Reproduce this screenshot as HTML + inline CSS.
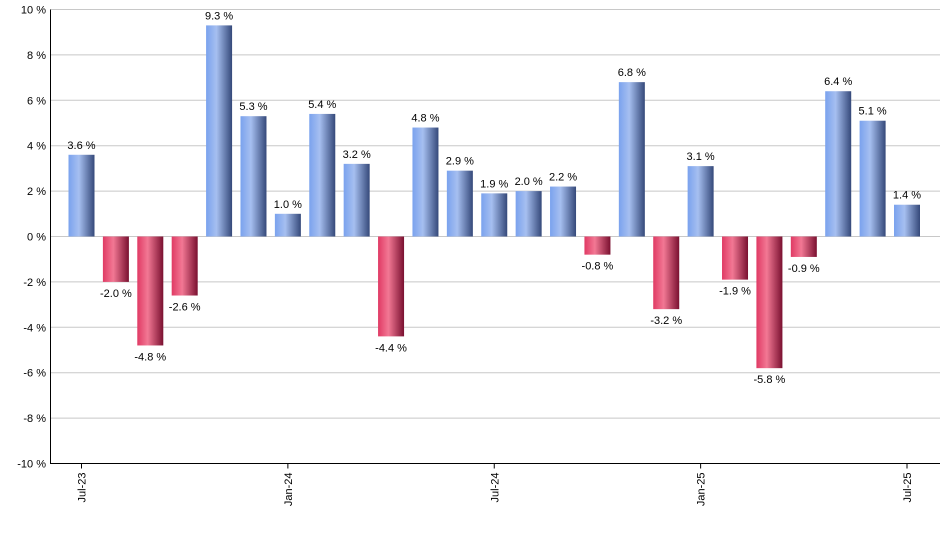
<!DOCTYPE html>
<html><head><meta charset="utf-8"><style>
body{margin:0;background:#fff;}
svg text{font-family:"Liberation Sans",sans-serif;font-size:11px;fill:#000;}
</style></head><body>
<svg id="chart" width="940" height="550">
<defs>
<linearGradient id="gb" x1="0" x2="1" y1="0" y2="0"><stop offset="0" stop-color="#7aa2ee"/><stop offset="0.4" stop-color="#a6bff0"/><stop offset="1" stop-color="#35497a"/></linearGradient>
<linearGradient id="gr" x1="0" x2="1" y1="0" y2="0"><stop offset="0" stop-color="#e03a64"/><stop offset="0.4" stop-color="#f27894"/><stop offset="1" stop-color="#7a1030"/></linearGradient>
</defs>
<g id="grid"></g><g id="bars"></g><g id="axes"></g>
</svg>
<script>
const categories=["Jul-23","Aug-23","Sep-23","Oct-23","Nov-23","Dec-23","Jan-24","Feb-24","Mar-24","Apr-24","May-24","Jun-24","Jul-24","Aug-24","Sep-24","Oct-24","Nov-24","Dec-24","Jan-25","Feb-25","Mar-25","Apr-25","May-25","Jun-25","Jul-25"];
const values=[3.6,-2.0,-4.8,-2.6,9.3,5.3,1.0,5.4,3.2,-4.4,4.8,2.9,1.9,2.0,2.2,-0.8,6.8,-3.2,3.1,-1.9,-5.8,-0.9,6.4,5.1,1.4];
const yTicks=[10,8,6,4,2,0,-2,-4,-6,-8,-10];
const xTickLabels=["Jul-23","Jan-24","Jul-24","Jan-25","Jul-25"];
const NS="http://www.w3.org/2000/svg";
const plotTop=9.5,plotBot=463.5,plotLeft=50.5,plotRight=940;
function yScale(v){return plotTop+(10-v)*(plotBot-plotTop)/20;}
function xScale(i){return 81.5+i*(907-81.5)/(categories.length-1);}
function mk(t,a,p){const e=document.createElementNS(NS,t);for(const k in a)e.setAttribute(k,a[k]);p.appendChild(e);return e;}
const grid=document.getElementById('grid'),bars=document.getElementById('bars'),axes=document.getElementById('axes');
yTicks.forEach(v=>{
 const l=mk('line',{x1:plotLeft,x2:plotRight,y1:yScale(v),y2:yScale(v),stroke:'#c8c8c8','stroke-width':1},grid);
 
 
 const t=mk('text',{x:46,y:yScale(v)+4,'text-anchor':'end'},axes);
 t.textContent=v+' %';
 
 
});
const bw=26;
values.forEach((v,i)=>{
 const cx=xScale(i),y0=yScale(0),yv=yScale(v);
 const r=mk('rect',{x:cx-bw/2,y:Math.min(y0,yv),width:bw,height:Math.abs(y0-yv),fill:v>=0?'url(#gb)':'url(#gr)'},bars);
 
 
 const t=mk('text',{x:cx,y:v>=0?yv-6:yv+15,'text-anchor':'middle'},bars);
 t.textContent=v.toFixed(1)+' %';
 
 
});
const ax=mk('path',{d:`M${plotLeft} ${plotTop}V${plotBot}H${plotRight}`,stroke:'#000',fill:'none','stroke-width':1},axes);


xTickLabels.forEach(lab=>{
 const i=categories.indexOf(lab),cx=xScale(i);
 const tk=mk('line',{x1:cx,x2:cx,y1:plotBot,y2:plotBot+5,stroke:'#000'},axes);
 
 
 const t=mk('text',{x:0,y:0,'text-anchor':'end',transform:`translate(${cx+4},${plotBot+9}) rotate(-90)`},axes);
 t.textContent=lab;
 
 
});
</script>
</body></html>
